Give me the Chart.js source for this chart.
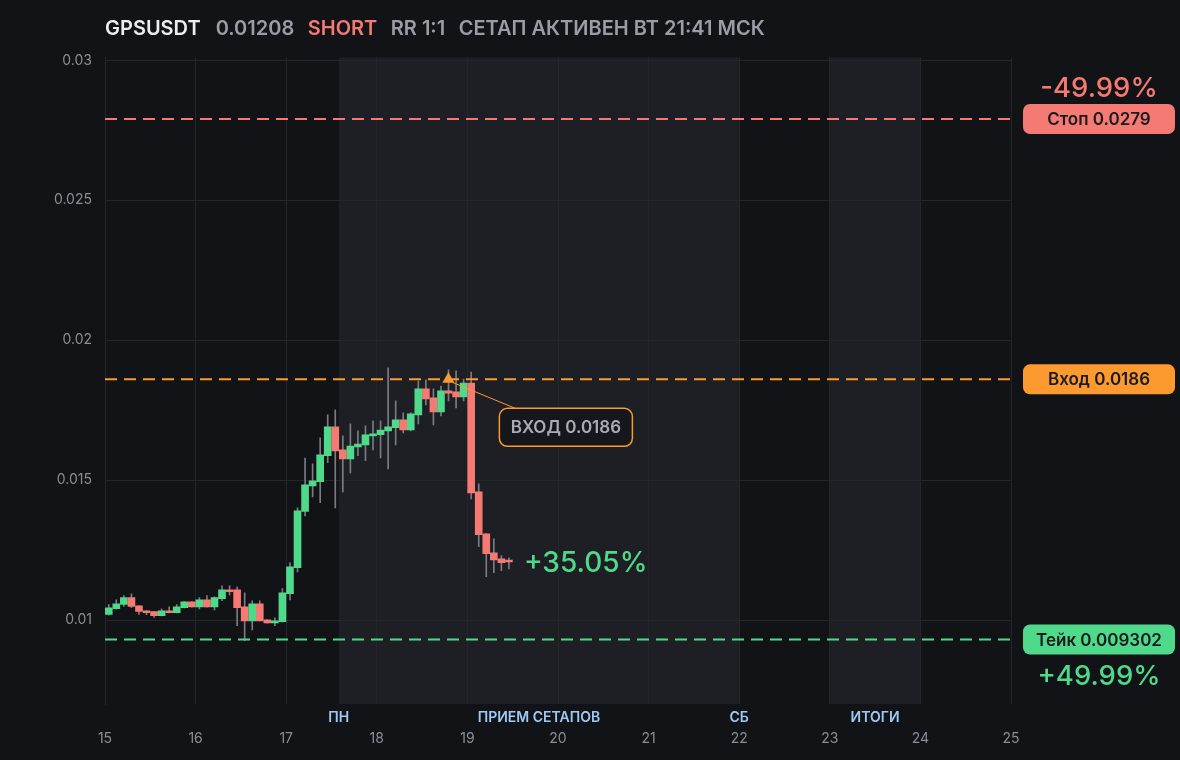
<!DOCTYPE html>
<html>
<head>
<meta charset="utf-8">
<script src="https://cdn.jsdelivr.net/npm/chart.js@4.4.1/dist/chart.umd.min.js"></script>
<style>
  html, body { margin: 0; padding: 0; background: #121317; }
  #wrap { position: relative; width: 1180px; height: 760px; }
  canvas { display: block; }
  #title { position: absolute; left: 105px; top: 16px; font: 600 20px Inter, "Noto Sans", sans-serif; color: #9a9da6; white-space: nowrap; }
  #title span { margin-right: 13.5px; }
  #title .sym { color: #eceef2; margin-right: 15px; }
  #title .side { color: #f47a73; }
</style>
</head>
<body>
<div id="wrap">
  <canvas id="mainChart" width="1180" height="760"></canvas>
  <div id="title"><span class="sym">GPSUSDT</span><span id="lastPrice"></span><span class="side">SHORT</span><span>RR 1:1</span><span>СЕТАП АКТИВЕН ВТ 21:41 МСК</span></div>
</div>
<script>
// 2h candles starting on day 15
const firstCandle = 15;
const candleStep = 2 / 24;
const opens  = [0.01020, 0.01041, 0.01056, 0.01080, 0.01051, 0.01033, 0.01030, 0.01016, 0.01033, 0.01026,
                0.01044, 0.01065, 0.01047, 0.01072, 0.01047, 0.01076, 0.01108, 0.01108, 0.01047, 0.00997,
                0.01058, 0.01001, 0.00990, 0.00994, 0.01094, 0.01187, 0.01388, 0.01479, 0.01494, 0.01587,
                0.01690, 0.01608, 0.01576, 0.01619, 0.01626, 0.01658, 0.01662, 0.01676, 0.01687, 0.01715,
                0.01679, 0.01733, 0.01826, 0.01794, 0.01744, 0.01819, 0.01815, 0.01797, 0.01847, 0.01458,
                0.01308, 0.01240, 0.01219, 0.01214];
const highs  = [0.01055, 0.01072, 0.01087, 0.01094, 0.01052, 0.01034, 0.01031, 0.01040, 0.01047, 0.01055,
                0.01066, 0.01066, 0.01080, 0.01087, 0.01083, 0.01122, 0.01122, 0.01119, 0.01097, 0.01069,
                0.01069, 0.01002, 0.01008, 0.01112, 0.01205, 0.01401, 0.01579, 0.01558, 0.01651, 0.01733,
                0.01751, 0.01658, 0.01701, 0.01676, 0.01694, 0.01712, 0.01712, 0.01901, 0.01783, 0.01740,
                0.01740, 0.01854, 0.01858, 0.01826, 0.01836, 0.01894, 0.01890, 0.01861, 0.01886, 0.01487,
                0.01309, 0.01290, 0.01230, 0.01222];
const lows   = [0.01017, 0.01039, 0.01049, 0.01044, 0.01020, 0.01019, 0.01009, 0.01015, 0.01025, 0.01025,
                0.01043, 0.01046, 0.01040, 0.01046, 0.01036, 0.01069, 0.01090, 0.00980, 0.00926, 0.00965,
                0.00997, 0.00989, 0.00980, 0.00992, 0.01072, 0.01172, 0.01372, 0.01440, 0.01419, 0.01562,
                0.01401, 0.01458, 0.01526, 0.01587, 0.01569, 0.01608, 0.01579, 0.01540, 0.01626, 0.01669,
                0.01676, 0.01701, 0.01769, 0.01697, 0.01729, 0.01783, 0.01758, 0.01783, 0.01433, 0.01262,
                0.01155, 0.01169, 0.01176, 0.01183];
const closes = [0.01044, 0.01058, 0.01080, 0.01049, 0.01031, 0.01026, 0.01016, 0.01033, 0.01026, 0.01047,
                0.01065, 0.01047, 0.01072, 0.01047, 0.01080, 0.01108, 0.01101, 0.01044, 0.00997, 0.01058,
                0.00997, 0.00990, 0.00997, 0.01097, 0.01190, 0.01390, 0.01483, 0.01497, 0.01590, 0.01690,
                0.01604, 0.01576, 0.01622, 0.01629, 0.01662, 0.01665, 0.01679, 0.01690, 0.01715, 0.01679,
                0.01737, 0.01826, 0.01790, 0.01744, 0.01819, 0.01811, 0.01797, 0.01847, 0.01454, 0.01305,
                0.01237, 0.01215, 0.01205, 0.01208];

const levelNames  = ['Стоп', 'Вход', 'Тейк'];
const levelValues = [0.0279, 0.0186, 0.009302];
const levelColors = ['#f47a73', '#fd9a2f', '#4fd98a'];
const riskText = '-49.99%';
const rewardText = '+49.99%';
const entryTime = 18.79;
const entryLabel = 'ВХОД 0.0186';

const yTicks = [0.01, 0.015, 0.02, 0.025, 0.03];
const bandStarts = [17.58, 23];
const bandEnds = [22, 24];
const sessionLabels = ['ПН', 'ПРИЕМ СЕТАПОВ', 'СБ', 'ИТОГИ'];
const sessionAt = [17.58, 19.79, 22, 23.5];

const GREEN = '#4fd98a';
const RED = '#f47a73';
const FONT = 'Inter, "Noto Sans", sans-serif';

const times = opens.map((_, i) => firstCandle + (i + 0.5) * candleStep);
const candleColors = closes.map((c, i) => c >= opens[i] ? GREEN : RED);
const lastClose = closes[closes.length - 1];
document.getElementById('lastPrice').innerText = String(lastClose);
const entry = levelValues[1];
const gainText = '+' + ((entry - lastClose) / entry * 100).toFixed(2) + '%';

const overlay = {
    id: 'overlay',
    beforeDraw(chart) {
        const { ctx, chartArea: a, scales: { x } } = chart;
        ctx.save();
        ctx.fillStyle = '#1e1f24';
        bandStarts.forEach((s, i) => {
            const x0 = x.getPixelForValue(s), x1 = x.getPixelForValue(bandEnds[i]);
            ctx.fillRect(x0, a.top, x1 - x0, a.bottom - a.top);
        });
        ctx.restore();
    },
    afterDraw(chart) {
        const { ctx, chartArea: a, scales: { x, y } } = chart;
        ctx.save();
        ctx.textAlign = 'center';
        ctx.textBaseline = 'middle';

        // session labels under the chart
        ctx.fillStyle = '#9ec9f5';
        ctx.font = '600 14px ' + FONT;
        sessionLabels.forEach((t, i) => ctx.fillText(t, x.getPixelForValue(sessionAt[i]), a.bottom + 14));

        // level pills on the right
        const px = a.right + 12, pw = 152, cx = px + pw / 2;
        levelValues.forEach((v, i) => {
            const py = y.getPixelForValue(v);
            ctx.fillStyle = levelColors[i];
            ctx.beginPath();
            ctx.roundRect(px, py - 15, pw, 30, 7);
            ctx.fill();
            ctx.fillStyle = '#1b1b1f';
            ctx.font = '600 17px ' + FONT;
            ctx.fillText(levelNames[i] + ' ' + v, cx, py + 1);
        });
        ctx.font = '500 27.5px ' + FONT;
        ctx.fillStyle = levelColors[0];
        ctx.fillText(riskText, cx, y.getPixelForValue(levelValues[0]) - 30);
        ctx.fillStyle = levelColors[2];
        ctx.fillText(rewardText, cx, y.getPixelForValue(levelValues[2]) + 37);

        // entry callout
        const ex = x.getPixelForValue(entryTime), ey = y.getPixelForValue(entry);
        const bx = ex + 51, by = ey + 29, bw = 133, bh = 38;
        ctx.strokeStyle = '#fd9a2f';
        ctx.lineWidth = 1;
        ctx.beginPath();
        ctx.moveTo(ex + 4, ey + 3);
        ctx.lineTo(bx + 16, by);
        ctx.stroke();
        ctx.fillStyle = '#16171c';
        ctx.lineWidth = 1.5;
        ctx.beginPath();
        ctx.roundRect(bx, by, bw, bh, 8);
        ctx.fill();
        ctx.stroke();
        ctx.fillStyle = '#a9acb4';
        ctx.font = '600 17px ' + FONT;
        ctx.fillText(entryLabel, bx + bw / 2, by + bh / 2 + 1);

        // current result next to the last candle
        ctx.textAlign = 'left';
        ctx.fillStyle = GREEN;
        ctx.font = '500 28px ' + FONT;
        ctx.fillText(gainText, x.getPixelForValue(times[times.length - 1]) + 15, y.getPixelForValue(lastClose) + 2);
        ctx.restore();
    }
};

const levelLine = (v, c) => ({
    type: 'line',
    data: [{ x: 15, y: v }, { x: 25, y: v }],
    borderColor: c,
    borderWidth: 2,
    borderDash: [12, 7],
    pointRadius: 0,
    order: 1
});

new Chart(document.getElementById('mainChart').getContext('2d'), {
    type: 'bar',
    data: {
        datasets: [{
            data: times.map((t, i) => ({ x: t, y: [opens[i], closes[i]] })),
            backgroundColor: candleColors,
            barThickness: 7,
            minBarLength: 1.5,
            grouped: false,
            order: 2
        }, {
            data: times.map((t, i) => ({ x: t, y: [lows[i], highs[i]] })),
            backgroundColor: '#7a7c84',
            barThickness: 1,
            grouped: false,
            order: 3
        },
        levelLine(levelValues[0], levelColors[0]),
        levelLine(levelValues[1], levelColors[1]),
        levelLine(levelValues[2], levelColors[2]),
        {
            type: 'line',
            data: [{ x: entryTime, y: entry }],
            showLine: false,
            pointStyle: 'triangle',
            pointRadius: 7,
            pointBackgroundColor: '#fd9a2f',
            pointBorderWidth: 0,
            order: 0
        }]
    },
    options: {
        responsive: false,
        animation: false,
        layout: { padding: { top: 57.5, right: 169, left: 0, bottom: 0 } },
        plugins: { legend: { display: false }, tooltip: { enabled: false } },
        scales: {
            x: {
                type: 'linear',
                min: 15, max: 25,
                offset: false,
                grid: { color: '#25262b', offset: false, drawTicks: false },
                border: { display: false },
                ticks: { stepSize: 1, color: '#8b8e97', padding: 26, font: { family: FONT, size: 14 } },
                afterFit: s => { s.height = 56; }
            },
            y: {
                min: 0.007, max: 0.0301,
                grid: { color: '#25262b', drawTicks: false },
                border: { color: '#25262b' },
                afterBuildTicks: s => { s.ticks = yTicks.map(v => ({ value: v })); },
                ticks: { color: '#8b8e97', padding: 13, font: { family: FONT, size: 14 }, callback: v => String(v) },
                afterFit: s => { s.width = 105; }
            }
        }
    },
    plugins: [overlay]
});
</script>
</body>
</html>
